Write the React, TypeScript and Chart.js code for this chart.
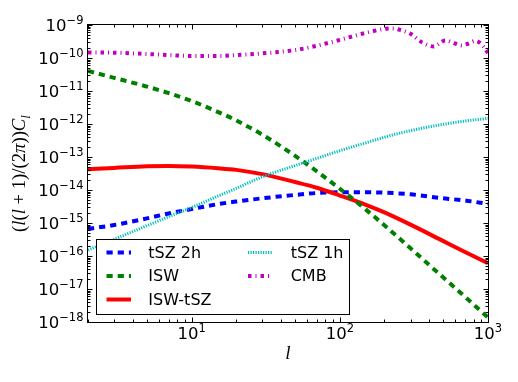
import React, { useEffect, useRef } from "react";
import { Chart, registerables } from "chart.js";

Chart.register(...registerables);

// ---- data ----
const ells = [2, 3, 5, 7, 10, 15, 20, 30, 50, 70, 100, 150, 200, 300, 500, 700, 1000];
const tsz2h = [6.6e-16, 8.7e-16, 1.38e-15, 1.95e-15, 2.63e-15, 3.72e-15, 4.47e-15, 5.6e-15, 7.1e-15, 8.1e-15, 8.5e-15, 8.5e-15, 8.3e-15, 7.4e-15, 5.6e-15, 4.8e-15, 3.8e-15];
const isw = [4.07e-11, 2.51e-11, 1.36e-11, 8.63e-12, 4.97e-12, 2.34e-12, 1.28e-12, 4.75e-13, 1.08e-13, 3.68e-14, 1.09e-14, 2.54e-15, 8.5e-16, 1.71e-16, 2.22e-17, 5.79e-18, 1.37e-18];
const iswTsz = [4.27e-14, 4.68e-14, 5.25e-14, 5.37e-14, 5.13e-14, 4.57e-14, 4.07e-14, 3.02e-14, 1.74e-14, 1.17e-14, 6.8e-15, 3.55e-15, 2.09e-15, 8.9e-16, 2.82e-16, 1.32e-16, 6.0e-17];
const tsz1h = [1.51e-16, 3.2e-16, 8.3e-16, 1.55e-15, 2.95e-15, 6.5e-15, 1.12e-14, 2.51e-14, 5.5e-14, 9.1e-14, 1.55e-13, 2.69e-13, 3.98e-13, 6.3e-13, 9.8e-13, 1.23e-12, 1.48e-12];
const ellsCmb = [2, 3, 5, 7, 10, 15, 20, 30, 50, 70, 100, 130, 160, 200, 230, 260, 300, 360, 430, 515, 600, 670, 740, 820, 870, 930, 1000];
const cmb = [1.48e-10, 1.45e-10, 1.32e-10, 1.23e-10, 1.15e-10, 1.15e-10, 1.23e-10, 1.38e-10, 1.74e-10, 2.34e-10, 3.55e-10, 4.9e-10, 6.2e-10, 7.6e-10, 7.8e-10, 6.9e-10, 5.4e-10, 2.95e-10, 2.24e-10, 3.4e-10, 2.75e-10, 2.4e-10, 2.75e-10, 3.3e-10, 3.0e-10, 2.24e-10, 1.41e-10];

const xTickValues = [10, 100, 1000];
const xTickExps = ["1", "2", "3"];
const yTickExps = [-18, -17, -16, -15, -14, -13, -12, -11, -10, -9];

const X_MIN = 2;
const X_MAX = 1000;
const Y_MIN = 1e-18;
const Y_MAX = 1e-9;

type Series = {
  label: string;
  xs: number[];
  ys: number[];
  color: string;
  dash: number[];
  width: number;
  z: number; // higher = drawn on top
};

const series: Series[] = [
  { label: "tSZ 2h", xs: ells, ys: tsz2h, color: "#0000ff", dash: [6.2, 5], width: 4, z: 1 },
  { label: "ISW", xs: ells, ys: isw, color: "#008000", dash: [6.2, 5], width: 4, z: 3 },
  { label: "ISW-tSZ", xs: ells, ys: iswTsz, color: "#ff0000", dash: [], width: 4, z: 2 },
  { label: "tSZ 1h", xs: ells, ys: tsz1h, color: "#00bfbf", dash: [1.2, 1.3], width: 3, z: 4 },
  { label: "CMB", xs: ellsCmb, ys: cmb, color: "#bf00bf", dash: [3.5, 4, 1, 4], width: 4, z: 5 },
];

// legend layout: column-major, 3 rows
const legendCols = [
  ["tSZ 2h", "ISW", "ISW-tSZ"],
  ["tSZ 1h", "CMB"],
];

const SANS = '"DejaVu Sans", sans-serif';
const SERIF = '"Liberation Serif", "DejaVu Serif", serif';

function drawPow(ctx: CanvasRenderingContext2D, x: number, y: number, exp: string, align: "center" | "right") {
  const base = `16.5px ${SANS}`;
  const small = `11.5px ${SANS}`;
  ctx.font = base;
  const wb = ctx.measureText("10").width;
  ctx.font = small;
  const we = ctx.measureText(exp).width;
  const total = wb + we;
  const x0 = align === "center" ? x - total / 2 : x - total;
  ctx.textAlign = "left";
  ctx.textBaseline = "alphabetic";
  ctx.fillStyle = "#000";
  ctx.font = base;
  ctx.fillText("10", x0, y);
  ctx.font = small;
  ctx.fillText(exp, x0 + wb, y - 7);
}

const overlayPlugin = {
  id: "overlay",
  afterDraw(chart: any) {
    const ctx: CanvasRenderingContext2D = chart.ctx;
    const { left, right, top, bottom } = chart.chartArea;
    const xs = chart.scales.x;
    const ys = chart.scales.y;
    ctx.save();

    // ticks (inward, all four sides)
    ctx.strokeStyle = "#000";
    ctx.lineWidth = 1;
    ctx.setLineDash([]);
    ctx.beginPath();
    for (let k = 0; k <= 3; k++) {
      for (let m = 1; m <= 9; m++) {
        const v = m * Math.pow(10, k);
        if (v < X_MIN || v > X_MAX) continue;
        const px = Math.round(xs.getPixelForValue(v)) + 0.5;
        const len = m === 1 ? 4.5 : 2.5;
        ctx.moveTo(px, bottom);
        ctx.lineTo(px, bottom - len);
        ctx.moveTo(px, top);
        ctx.lineTo(px, top + len);
      }
    }
    for (let k = -18; k <= -9; k++) {
      for (let m = 1; m <= 9; m++) {
        const v = m * Math.pow(10, k);
        if (v < Y_MIN * 0.999 || v > Y_MAX * 1.001) continue;
        const py = Math.round(ys.getPixelForValue(v)) + 0.5;
        const len = m === 1 ? 4.5 : 2.5;
        ctx.moveTo(left, py);
        ctx.lineTo(left + len, py);
        ctx.moveTo(right, py);
        ctx.lineTo(right - len, py);
      }
    }
    ctx.stroke();

    // frame
    ctx.strokeRect(Math.round(left) - 0.5, Math.round(top) - 0.5, Math.round(right - left) + 1, Math.round(bottom - top) + 1);

    // tick labels
    xTickValues.forEach((v, i) => {
      const px = xs.getPixelForValue(v);
      drawPow(ctx, px, bottom + 16.5, xTickExps[i], "center");
    });
    yTickExps.forEach((e) => {
      const py = ys.getPixelForValue(Math.pow(10, e));
      drawPow(ctx, left - 4.5, py + 6, "\u2212" + String(-e), "right");
    });

    // x label
    ctx.font = `italic 19px ${SERIF}`;
    ctx.textAlign = "center";
    ctx.textBaseline = "alphabetic";
    ctx.fillText("l", (left + right) / 2, 359);

    // y label: (l(l+1)/(2π))C_l
    const runs = [
      { t: "(", i: false, s: false },
      { t: "l", i: true, s: false },
      { t: "(", i: false, s: false },
      { t: "l", i: true, s: false },
      { t: " + ", i: false, s: false },
      { t: "1)/(2", i: false, s: false },
      { t: "\u03c0", i: true, s: false },
      { t: "))", i: false, s: false },
      { t: "C", i: true, s: false },
      { t: "l", i: true, s: true },
    ];
    const fontFor = (r: any, size: number) => `${r.i ? "italic " : ""}${r.s ? size * 0.7 : size}px ${SERIF}`;
    const widthAt = (size: number) =>
      runs.reduce((acc, r) => {
        ctx.font = fontFor(r, size);
        return acc + ctx.measureText(r.t).width;
      }, 0);
    let size = 18;
    size = (size * 117) / widthAt(size);
    const total = widthAt(size);
    ctx.translate(25, (top + bottom) / 2);
    ctx.rotate(-Math.PI / 2);
    ctx.textAlign = "left";
    ctx.textBaseline = "alphabetic";
    let cx = -total / 2;
    runs.forEach((r) => {
      ctx.font = fontFor(r, size);
      ctx.fillText(r.t, cx, r.s ? size * 0.25 : 0);
      cx += ctx.measureText(r.t).width;
    });
    ctx.setTransform(1, 0, 0, 1, 0, 0);

    // legend
    const bx = 96.5, by = 239.5, bw = 253, bh = 75;
    ctx.fillStyle = "#fff";
    ctx.fillRect(bx, by, bw, bh);
    ctx.strokeStyle = "#000";
    ctx.lineWidth = 1;
    ctx.setLineDash([]);
    ctx.strokeRect(bx, by, bw, bh);
    const rowY = [252.5, 276, 299.5];
    const colSample = [[106.5, 131], [248, 272]];
    const colText = [148.3, 290.7];
    legendCols.forEach((col, ci) => {
      col.forEach((name, ri) => {
        const s = series.find((q) => q.label === name)!;
        const y = rowY[ri];
        ctx.save();
        ctx.strokeStyle = s.color;
        ctx.lineWidth = s.width;
        ctx.lineCap = "butt";
        ctx.setLineDash(s.dash);
        ctx.beginPath();
        ctx.moveTo(colSample[ci][0], y);
        ctx.lineTo(colSample[ci][1], y);
        ctx.stroke();
        ctx.restore();
        ctx.fillStyle = "#000";
        ctx.font = `16px ${SANS}`;
        ctx.textAlign = "left";
        ctx.textBaseline = "middle";
        ctx.fillText(name, colText[ci], y + 1);
      });
    });

    ctx.restore();
  },
};

export default function App() {
  const canvasRef = useRef<HTMLCanvasElement | null>(null);

  useEffect(() => {
    const canvas = canvasRef.current;
    if (!canvas) return;
    const chart = new Chart(canvas, {
      type: "line",
      data: {
        datasets: series.map((s) => ({
          label: s.label,
          data: s.xs.map((x, i) => ({ x, y: s.ys[i] })),
          borderColor: s.color,
          backgroundColor: s.color,
          borderWidth: s.width,
          borderDash: s.dash,
          borderCapStyle: "butt",
          pointRadius: 0,
          pointHoverRadius: 0,
          fill: false,
          cubicInterpolationMode: "monotone",
          clip: 0,
          order: 10 - s.z,
        })),
      },
      options: {
        animation: false,
        responsive: false,
        devicePixelRatio: 1,
        events: [],
        layout: { padding: { left: 0, right: 30, top: 25, bottom: 0 } },
        plugins: { legend: { display: false }, tooltip: { enabled: false } },
        scales: {
          x: {
            type: "logarithmic",
            min: X_MIN,
            max: X_MAX,
            grid: { display: false },
            border: { display: false },
            ticks: { display: false },
            afterFit: (scale: any) => {
              scale.height = 60;
            },
          },
          y: {
            type: "logarithmic",
            min: Y_MIN,
            max: Y_MAX,
            grid: { display: false },
            border: { display: false },
            ticks: { display: false },
            afterFit: (scale: any) => {
              scale.width = 88;
            },
          },
        },
      } as any,
      plugins: [overlayPlugin],
    });
    return () => chart.destroy();
  }, []);

  return (
    <div style={{ position: "fixed", left: 0, top: 0, width: 518, height: 382, background: "#fff" }}>
      <canvas ref={canvasRef} width={518} height={382} style={{ display: "block" }} />
    </div>
  );
}
